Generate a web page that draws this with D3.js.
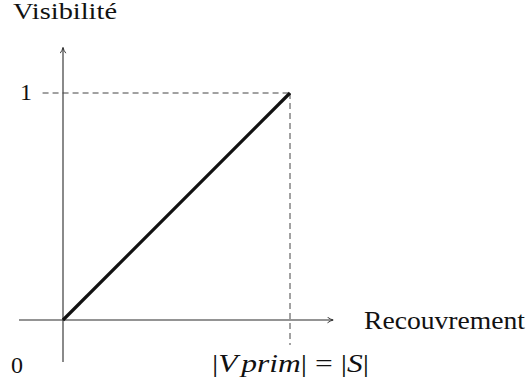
<!DOCTYPE html>
<html>
<head>
<meta charset="utf-8">
<script src="https://cdn.jsdelivr.net/npm/d3@7"></script>
<style>
  html, body { margin: 0; padding: 0; background: #fff; }
</style>
</head>
<body>
<svg id="chart" width="529" height="388" font-family="Liberation Serif" fill="#111"></svg>
<script>
// Visibility as a function of overlap: linear from 0 up to 1 at |Vprim| = |S|
const overlap = [0, 1];
const visibility = [0, 1];
const yTickLabels = ["0", "1"];
const xAxisTitle = "Recouvrement";
const yAxisTitle = "Visibilité";

const svg = d3.select("#chart");

const x = d3.scaleLinear().domain([0, 1]).range([63, 290]);
const y = d3.scaleLinear().domain([0, 1]).range([320, 93]);

// arrow marker for the axes
svg.append("defs").append("marker")
  .attr("id", "arrow")
  .attr("viewBox", "0 0 10 10")
  .attr("refX", 9).attr("refY", 5)
  .attr("markerWidth", 7).attr("markerHeight", 7)
  .attr("markerUnits", "userSpaceOnUse")
  .attr("orient", "auto")
  .append("path")
  .attr("d", "M1,1 Q5,4 9,5 Q5,6 1,9")
  .attr("fill", "none")
  .attr("stroke", "#2a2a2a")
  .attr("stroke-width", 1.3);

// axes
svg.append("line")
  .attr("x1", x(-0.194)).attr("y1", y(0))
  .attr("x2", x(1.19)).attr("y2", y(0))
  .attr("stroke", "#2a2a2a").attr("stroke-width", 1.1)
  .attr("marker-end", "url(#arrow)");

svg.append("line")
  .attr("x1", x(0)).attr("y1", y(-0.185))
  .attr("x2", x(0)).attr("y2", y(1.2))
  .attr("stroke", "#2a2a2a").attr("stroke-width", 1.1)
  .attr("marker-end", "url(#arrow)");

// dashed guides to the end point
const xEnd = overlap[overlap.length - 1];
const yEnd = visibility[visibility.length - 1];
svg.append("line")
  .attr("x1", x(-0.09)).attr("y1", y(yEnd))
  .attr("x2", x(xEnd)).attr("y2", y(yEnd))
  .attr("stroke", "#444").attr("stroke-width", 1)
  .attr("stroke-dasharray", "6,4");
svg.append("line")
  .attr("x1", x(xEnd)).attr("y1", y(yEnd))
  .attr("x2", x(xEnd)).attr("y2", y(-0.11))
  .attr("stroke", "#444").attr("stroke-width", 1)
  .attr("stroke-dasharray", "6,4");

// the visibility curve
const pts = overlap.map((d, i) => [d, visibility[i]]);
svg.append("path")
  .datum(pts)
  .attr("d", d3.line().x(d => x(d[0])).y(d => y(d[1])))
  .attr("fill", "none")
  .attr("stroke", "#111")
  .attr("stroke-width", 3.2)
  .attr("stroke-linecap", "butt");

// labels
svg.append("text")
  .attr("x", 13).attr("y", 19)
  .attr("font-size", 22.5)
  .attr("textLength", 104).attr("lengthAdjust", "spacingAndGlyphs")
  .text(yAxisTitle);

svg.append("text")
  .attr("x", 20).attr("y", y(1) + 7)
  .attr("font-size", 24)
  .text(yTickLabels[1]);

svg.append("text")
  .attr("x", 11).attr("y", 373)
  .attr("font-size", 24)
  .text(yTickLabels[0]);

svg.append("text")
  .attr("x", 364).attr("y", 329)
  .attr("font-size", 25)
  .attr("textLength", 161).attr("lengthAdjust", "spacingAndGlyphs")
  .text(xAxisTitle);

const mathLabel = svg.append("text")
  .attr("x", 212).attr("y", 372)
  .attr("font-size", 25)
  .attr("textLength", 157).attr("lengthAdjust", "spacingAndGlyphs");
mathLabel.append("tspan").text("|");
mathLabel.append("tspan").attr("font-style", "italic").text("V");
mathLabel.append("tspan").attr("font-style", "italic").attr("dx", 3).text("prim");
mathLabel.append("tspan").text("| = |");
mathLabel.append("tspan").attr("font-style", "italic").text("S");
mathLabel.append("tspan").text("|");
</script>
</body>
</html>
